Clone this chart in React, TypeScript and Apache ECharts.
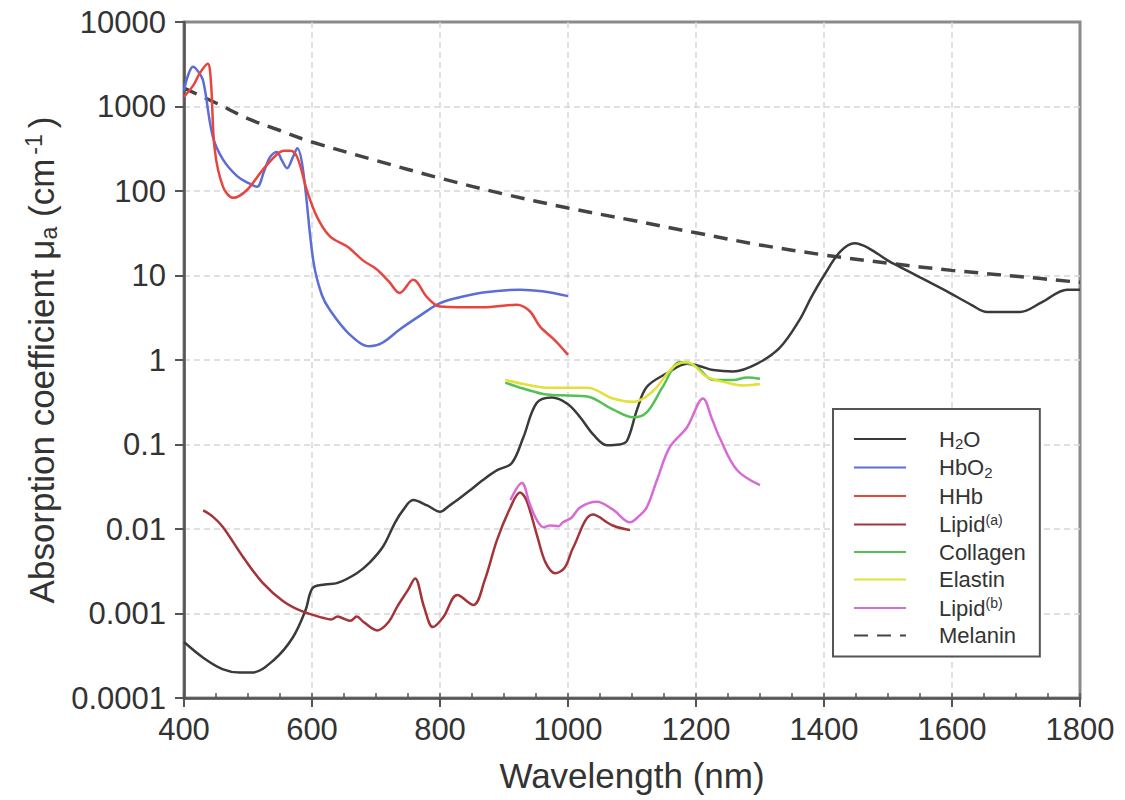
import React, { useEffect, useRef } from 'react';
import * as echarts from 'echarts';

const FONT = '"Liberation Sans", Arial, Helvetica, sans-serif';

// ---- tick labels ----
const xTickValues = [400, 600, 800, 1000, 1200, 1400, 1600, 1800];
const yTickLabels = ['0.0001', '0.001', '0.01', '0.1', '1', '10', '100', '1000', '10000'];

// ---- series names / legend labels ----
const seriesNames = ['H2O', 'HbO2', 'HHb', 'Lipid(a)', 'Collagen', 'Elastin', 'Lipid(b)', 'Melanin'];
const legendLabels: Record<string, string> = {
  'H2O': '{g|}{n|H}{b|2}{n|O}',
  'HbO2': '{g|}{n|HbO}{b|2}',
  'HHb': '{g|}{n|HHb}',
  'Lipid(a)': '{g|}{n|Lipid}{t|(a)}',
  'Collagen': '{g|}{n|Collagen}',
  'Elastin': '{g|}{n|Elastin}',
  'Lipid(b)': '{g|}{n|Lipid}{t|(b)}',
  'Melanin': '{g|}{n|Melanin}',
};

// ---- data: [wavelength nm, absorption cm^-1] ----
const h2o: [number, number][] = [
  [400, 0.00046], [430, 0.0003], [460, 0.00022], [487, 0.0002], [506, 0.0002], [540, 0.00028],
  [570, 0.00052], [590, 0.0011], [601, 0.002], [620, 0.0022], [640, 0.0023], [670, 0.003],
  [690, 0.004], [711, 0.0062], [730, 0.012], [742, 0.0166], [758, 0.022], [780, 0.019],
  [800, 0.016], [815, 0.019], [827, 0.022], [850, 0.03], [867, 0.038], [890, 0.05], [912, 0.06],
  [930, 0.12], [951, 0.31], [975, 0.36], [1000, 0.3], [1019, 0.21], [1040, 0.13], [1061, 0.098],
  [1080, 0.1], [1092, 0.11], [1108, 0.26], [1123, 0.48], [1155, 0.7], [1186, 0.9], [1205, 0.85],
  [1227, 0.76], [1258, 0.73], [1295, 0.9], [1331, 1.4], [1362, 3], [1380, 5.5], [1400, 10],
  [1425, 19], [1448, 24], [1470, 21], [1500, 15], [1519, 12.6], [1550, 9.5], [1597, 6.2],
  [1630, 4.5], [1655, 3.7], [1706, 3.7], [1740, 4.8], [1780, 6.8], [1800, 6.8],
];
const hbo2: [number, number][] = [
  [400, 1550], [406, 2300], [414, 2950], [422, 2600], [430, 2000], [445, 440], [461, 235],
  [483, 150], [500, 125], [514, 112], [525, 170], [534, 250], [545, 290], [553, 230], [561, 186],
  [570, 250], [577, 320], [586, 178], [602, 15], [615, 6], [628, 3.9], [659, 2], [690, 1.45],
  [710, 1.6], [737, 2.3], [770, 3.4], [800, 4.7], [830, 5.5], [867, 6.3], [925, 6.8], [960, 6.5],
  [1000, 5.7],
];
const hhb: [number, number][] = [
  [400, 1300], [415, 1800], [425, 2500], [437, 3200], [442, 2000], [448, 310], [461, 112],
  [477, 83], [498, 102], [523, 178], [545, 270], [556, 300], [566, 300], [577, 250], [592, 102],
  [608, 49], [628, 29], [655, 22], [680, 15], [700, 12], [720, 8.5], [737, 6.2], [758, 8.9],
  [780, 5.5], [800, 4.3], [867, 4.2], [920, 4.5], [940, 3.8], [956, 2.5], [980, 1.7], [1000, 1.15],
];
const lipidA: [number, number][] = [
  [430, 0.0166], [445, 0.014], [461, 0.0105], [492, 0.0047], [523, 0.0023], [555, 0.0014],
  [586, 0.00105], [617, 0.00089], [630, 0.00085], [640, 0.00092], [648, 0.00088], [660, 0.00082],
  [670, 0.00092], [680, 0.0008], [702, 0.00063], [720, 0.0008], [733, 0.0012], [750, 0.0019],
  [761, 0.0026], [775, 0.0012], [789, 0.00069], [805, 0.0009], [827, 0.00165], [852, 0.00126],
  [870, 0.0025], [889, 0.0074], [910, 0.018], [925, 0.027], [935, 0.022], [952, 0.0082],
  [965, 0.004], [980, 0.003], [995, 0.0035], [1008, 0.006], [1039, 0.0148], [1070, 0.011],
  [1097, 0.0097],
];
const collagen: [number, number][] = [
  [902, 0.54], [930, 0.46], [967, 0.39], [1000, 0.38], [1030, 0.37], [1070, 0.26], [1102, 0.21],
  [1123, 0.24], [1148, 0.48], [1175, 0.95], [1190, 0.9], [1202, 0.82], [1227, 0.58], [1258, 0.58],
  [1280, 0.62], [1300, 0.6],
];
const elastin: [number, number][] = [
  [902, 0.58], [930, 0.52], [967, 0.47], [1030, 0.47], [1070, 0.35], [1102, 0.32], [1133, 0.43],
  [1164, 0.82], [1186, 0.95], [1217, 0.63], [1248, 0.54], [1275, 0.5], [1300, 0.52],
];
const lipidB: [number, number][] = [
  [910, 0.022], [928, 0.035], [940, 0.02], [951, 0.0129], [962, 0.0105], [972, 0.011],
  [985, 0.0108], [992, 0.012], [1005, 0.0135], [1019, 0.018], [1045, 0.021], [1070, 0.017],
  [1097, 0.012], [1110, 0.014], [1123, 0.018], [1139, 0.038], [1159, 0.093], [1186, 0.16],
  [1211, 0.35], [1225, 0.2], [1237, 0.12], [1264, 0.05], [1300, 0.033],
];
const melanin: [number, number][] = [
  [400, 1650], [450, 1100], [500, 720], [550, 520], [600, 380], [700, 230], [800, 142], [900, 92],
  [1000, 63], [1100, 45], [1200, 32], [1300, 23], [1400, 17.5], [1500, 14], [1600, 11.5],
  [1700, 9.8], [1800, 8.3],
];

const seriesData = [h2o, hbo2, hhb, lipidA, collagen, elastin, lipidB, melanin];
const seriesColors = ['#3a3a3a', '#5a6ed6', '#e8453f', '#a3353a', '#55c055', '#e3e03a', '#d66bd6', '#444444'];

export default function App() {
  const ref = useRef<HTMLDivElement>(null);
  useEffect(() => {
    if (!ref.current) return;
    const chart = echarts.init(ref.current, undefined, { renderer: 'svg' });
    const series: any[] = seriesNames.map((name, i) => ({
      name,
      type: 'line',
      data: seriesData[i],
      xAxisIndex: 0,
      yAxisIndex: 0,
      symbol: 'none',
      showSymbol: false,
      smooth: 0.35,
      clip: true,
      z: name === 'Melanin' ? 3 : 4,
      lineStyle: {
        color: seriesColors[i],
        width: name === 'Melanin' ? 3.5 : 2.5,
        type: name === 'Melanin' ? [14, 9] : 'solid',
      },
      itemStyle: { color: seriesColors[i] },
    }));
    const gridLine = { show: true, showMinLine: false, showMaxLine: false, lineStyle: { color: '#d6d6d6', type: [6, 4], width: 1.5 } };
    chart.setOption({
      animation: false,
      backgroundColor: '#ffffff',
      grid: {
        left: 184, right: 45, top: 22, bottom: 102,
        show: true, borderColor: '#8a8a8a', borderWidth: 3,
      },
      xAxis: [
        {
          type: 'value', min: 400, max: 1800, interval: 200,
          name: 'Wavelength (nm)', nameLocation: 'middle', nameGap: 60,
          nameTextStyle: { fontSize: 35, fontFamily: FONT, color: '#333' },
          axisLine: { show: true, lineStyle: { color: '#555', width: 2.5 } },
          axisTick: { show: true, inside: false, length: 9, lineStyle: { color: '#555', width: 2 } },
          axisLabel: {
            fontSize: 31, fontFamily: FONT, color: '#333', margin: 16,
            formatter: (v: number) => (xTickValues.includes(v) ? String(v) : ''),
          },
          splitLine: gridLine,
        },
        {
          type: 'value', min: 400, max: 1800, interval: 50, position: 'bottom',
          axisLine: { show: false },
          axisTick: { show: true, inside: true, length: 5, lineStyle: { color: '#555', width: 1.5 } },
          axisLabel: { show: false },
          splitLine: { show: false },
        },
      ],
      yAxis: {
        type: 'log', logBase: 10, min: 0.0001, max: 10000, interval: 1,
        name: '{n|Absorption coefficient μ}{b|a}{n| (cm}{t|-1}{n|)}',
        nameLocation: 'middle', nameGap: 116,
        nameTextStyle: {
          fontSize: 35, fontFamily: FONT, color: '#333',
          rich: {
            n: { fontSize: 35, fontFamily: FONT, color: '#333', lineHeight: 38 },
            b: { fontSize: 23, fontFamily: FONT, color: '#333', lineHeight: 20, verticalAlign: 'bottom' },
            t: { fontSize: 23, fontFamily: FONT, color: '#333', lineHeight: 20, verticalAlign: 'top', padding: [0, 6, 0, 4] },
          },
        },
        axisLine: { show: true, lineStyle: { color: '#555', width: 2.5 } },
        axisTick: { show: true, inside: false, length: 9, lineStyle: { color: '#555', width: 2 } },
        axisLabel: {
          fontSize: 31, fontFamily: FONT, color: '#333', margin: 18,
          formatter: (v: number) => yTickLabels[Math.round(Math.log10(v)) + 4] ?? '',
        },
        splitLine: gridLine,
      },
      legend: {
        show: true,
        data: seriesNames,
        orient: 'vertical',
        left: 833, top: 409,
        padding: [19, 14, 10, 20],
        itemWidth: 52, itemHeight: 14, itemGap: 5.5,
        itemStyle: { opacity: 0, borderWidth: 0 },
        borderColor: '#555', borderWidth: 2, backgroundColor: '#ffffff',
        formatter: (name: string) => legendLabels[name] ?? name,
        textStyle: {
          fontSize: 22, fontFamily: FONT, color: '#333',
          rich: {
            g: { width: 28, lineHeight: 24 },
            n: { fontSize: 22, fontFamily: FONT, color: '#333', lineHeight: 24 },
            b: { fontSize: 15, fontFamily: FONT, color: '#333', lineHeight: 14, verticalAlign: 'bottom' },
            t: { fontSize: 14, fontFamily: FONT, color: '#333', lineHeight: 14, verticalAlign: 'top' },
          },
        },
      },
      series,
    });
    return () => chart.dispose();
  }, []);
  return (
    <div
      ref={ref}
      style={{ position: 'fixed', left: 0, top: 0, width: 1125, height: 800, background: '#fff' }}
    />
  );
}
